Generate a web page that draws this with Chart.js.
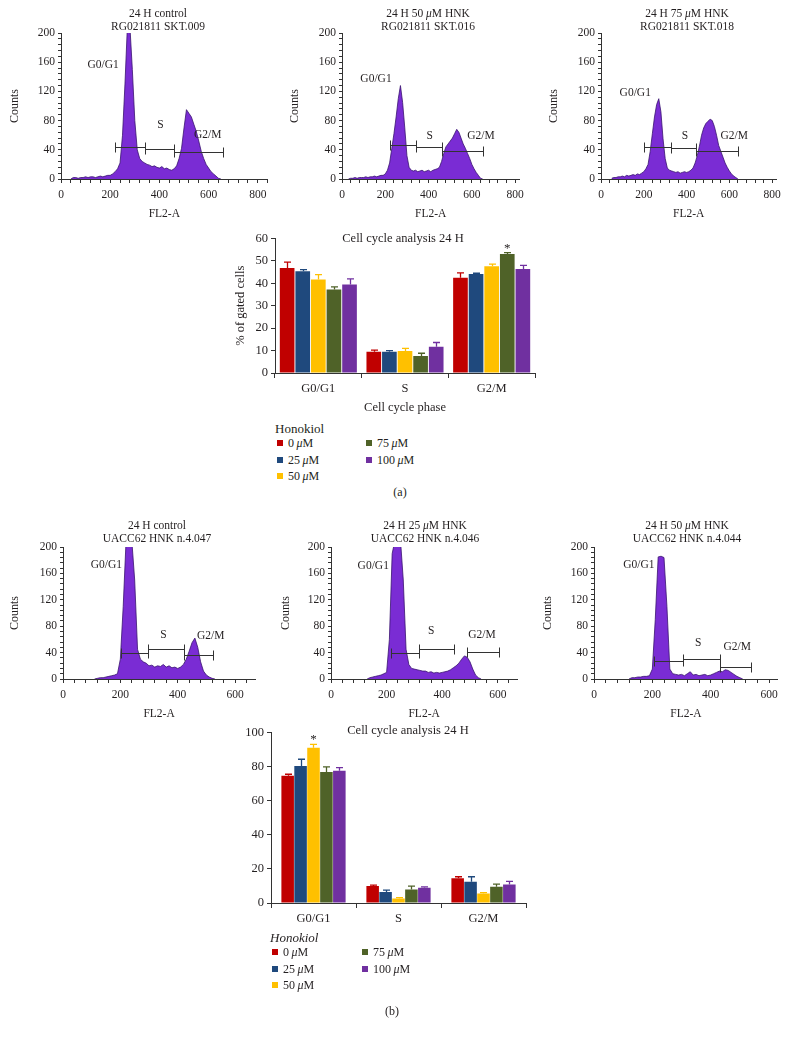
<!DOCTYPE html>
<html><head><meta charset="utf-8">
<script src="https://cdn.jsdelivr.net/npm/chart.js@4/dist/chart.umd.min.js"></script>
<style>
body{margin:0;background:#fff;width:787px;height:1037px;position:relative;overflow:hidden;font-family:"Liberation Serif","DejaVu Serif",serif;color:#231f20}
canvas{position:absolute}
.t{position:absolute;white-space:nowrap;transform:translate(-50%,-50%);font-size:11.5px;line-height:13px;text-align:center}
.l{position:absolute;white-space:nowrap;transform:translateY(-50%);font-size:11.5px;line-height:13px}
.sq{position:absolute;width:6px;height:6px;transform:translateY(-50%)}
</style></head><body>
<script>
// ---------------- DATA ----------------
const BIN = 10; // FL2-A channel bin width
// Panel (a) RG021811 histograms (counts every 10 channels from start)
const h1Start = 40;
const h1Counts = [0,2,2,1,2,2,3,2,3,3,2,3,4,3,4,5,5,7,10,14,22,60,130,210,210,150,80,40,28,24,22,20,19,17,18,16,15,17,14,15,13,12,14,18,28,42,70,95,90,85,75,65,52,38,28,20,15,10,7,4,1,0];
const h2Start = 30;
const h2Counts = [0,1,1,2,1,2,2,2,3,2,3,3,4,3,4,5,5,7,12,22,42,62,85,110,128,105,70,32,16,12,11,12,10,11,12,10,11,12,10,12,13,14,16,24,35,44,48,52,56,62,68,64,56,48,42,35,28,20,14,9,5,1,0];
const h3Start = 50;
const h3Counts = [1,2,2,3,3,4,3,5,4,5,6,5,7,6,8,10,14,20,38,62,85,102,110,92,55,28,15,12,11,10,9,10,8,9,10,9,10,12,15,22,32,45,60,70,76,79,82,80,72,60,46,38,30,22,16,11,7,4,2,0];
// Panel (b) UACC62 histograms
const h4Start = 110;
const h4Counts = [0,1,2,2,3,4,5,6,8,30,110,210,210,210,150,45,30,26,24,20,21,18,20,19,22,18,20,17,18,16,18,22,30,42,55,62,48,26,12,6,3,1,0];
const h5Start = 130;
const h5Counts = [0,2,3,4,5,6,8,10,60,190,210,210,210,150,45,22,16,15,14,13,12,12,10,11,9,10,9,10,11,12,14,17,20,24,30,35,33,26,15,6,2,0];
const h6Start = 120;
const h6Counts = [0,2,2,3,3,4,4,5,15,90,185,186,184,110,15,8,7,6,7,5,8,11,6,7,5,6,7,5,6,8,10,12,11,14,13,10,7,4,2,0];

// gate ranges [from, to] in FL2-A channels: G0/G1, S, G2/M
const h1Gates = [[218,340],[340,461],[461,659]];
const h2Gates = [[222,344],[344,462],[462,653]];
const h3Gates = [[203,326],[326,443],[443,640]];
const h4Gates = [[202,298],[298,422],[422,524]];
const h5Gates = [[216,315],[315,441],[489,603]];
const h6Gates = [[205,305],[305,431],[431,537]];
const gateNames = ['G0/G1','S','G2/M'];

// bar charts
const phases = ['G0/G1','S','G2/M'];
const doses = ['0','25','50','75','100'];
// (a) % of gated cells, means and upper error bounds per dose
const a0 = [46.8, 9.5, 42.5],   a0Err = [49.5, 10.2, 44.7];
const a25 = [45.4, 9.5, 44.2],  a25Err = [46.1, 10.0, 44.5];
const a50 = [41.7, 9.8, 47.6],  a50Err = [43.9, 11.0, 48.6];
const a75 = [37.3, 7.6, 53.1],  a75Err = [38.4, 8.8, 53.7];
const a100 = [39.5, 11.7, 46.4],a100Err = [42.0, 13.6, 48.0];
// (b)
const b0 = [74.6, 9.9, 14.5],   b0Err = [75.5, 10.5, 15.4];
const b25 = [80.4, 6.5, 12.5],  b25Err = [84.3, 7.5, 15.4];
const b50 = [91.1, 2.6, 5.5],   b50Err = [93.0, 3.2, 6.1];
const b75 = [76.9, 7.9, 9.5],   b75Err = [79.8, 9.9, 11.1];
const b100 = [77.5, 8.9, 10.9], b100Err = [79.4, 9.5, 12.7];
const aStars = [[2,3]]; // [phase index, dose index]
const bStars = [[0,2]];

// ---------------- STYLE ----------------
const FONT = '"Liberation Serif","DejaVu Serif",serif';
const INK = '#231f20';
const PURPLE = '#7a2cd4', PURPLE_EDGE = '#3a1470';
const DOSE_COLORS = ['#c00000','#1f497d','#ffc000','#4f6228','#7030a0'];

// ---------------- PLUGINS ----------------
const gatePlugin = {
  id:'gates',
  afterDatasetsDraw(chart, args, o){
    if(!o || !o.gates) return;
    const {ctx} = chart, x = chart.scales.x, y = chart.scales.y;
    ctx.save();
    ctx.strokeStyle = '#333'; ctx.lineWidth = 1;
    o.gates.forEach((g,i)=>{
      const x1 = Math.round(x.getPixelForValue(g[0]))+0.5, x2 = Math.round(x.getPixelForValue(g[1]))+0.5;
      const yy = Math.round(y.getPixelForValue(o.heights[i]))+0.5;
      ctx.beginPath();
      ctx.moveTo(x1,yy); ctx.lineTo(x2,yy);
      ctx.moveTo(x1,yy-5); ctx.lineTo(x1,yy+5);
      ctx.moveTo(x2,yy-5); ctx.lineTo(x2,yy+5);
      ctx.stroke();
    });
    ctx.fillStyle = INK; ctx.font = '11.5px '+FONT; ctx.textAlign='center'; ctx.textBaseline='middle';
    o.names.forEach((n,i)=>{
      const p = o.labelPos[i];
      ctx.fillText(n, x.getPixelForValue(p[0]), y.getPixelForValue(p[1]));
    });
    ctx.restore();
  }
};
const errPlugin = {
  id:'errbars',
  afterDatasetsDraw(chart, args, o){
    if(!o || !o.err) return;
    const {ctx} = chart, y = chart.scales.y;
    ctx.save();
    chart.data.datasets.forEach((ds,di)=>{
      const meta = chart.getDatasetMeta(di);
      meta.data.forEach((bar,i)=>{
        const top = y.getPixelForValue(o.err[di][i]);
        const bx = Math.round(bar.x)+0.5;
        ctx.strokeStyle = ds.backgroundColor; ctx.lineWidth = 1.3;
        ctx.beginPath();
        ctx.moveTo(bx, bar.y); ctx.lineTo(bx, top);
        ctx.moveTo(bx-3.5, top); ctx.lineTo(bx+3.5, top);
        ctx.stroke();
      });
    });
    ctx.fillStyle = INK; ctx.font = '13px '+FONT; ctx.textAlign='center'; ctx.textBaseline='alphabetic';
    (o.stars||[]).forEach(s=>{
      const bar = chart.getDatasetMeta(s[1]).data[s[0]];
      ctx.fillText('*', bar.x, y.getPixelForValue(o.err[s[1]][s[0]]) - 1);
    });
    ctx.restore();
  }
};
Chart.register(gatePlugin, errPlugin);

// ---------------- HELPERS ----------------
function addText(html, x, y, cls, extra){
  const d = document.createElement('div');
  d.className = cls; d.innerHTML = html;
  d.style.left = x+'px'; d.style.top = y+'px';
  if(extra) Object.assign(d.style, extra);
  document.body.appendChild(d);
}
function addCanvas(left, top, w, h){
  const c = document.createElement('canvas');
  c.width = w; c.height = h;
  c.style.left = left+'px'; c.style.top = top+'px';
  c.style.width = w+'px'; c.style.height = h+'px';
  document.body.appendChild(c);
  return c;
}
function range(a,b,s){ const r=[]; for(let v=a; v<=b+1e-9; v+=s) r.push(v); return r; }

function makeHist(L, start, counts, gates){
  const left = L.axisX - 61;
  const rightRel = L.axisX + L.xMax*L.ppu - left;
  const W = Math.ceil(rightRel + 8), H = 225;
  const cv = addCanvas(left, L.canvasTop, W, H);
  const pts = counts.map((c,i)=>({x:start + i*BIN, y:c}));
  const xMinor = range(0, L.xMax, 40), yMinor = range(0,200,8);
  new Chart(cv, {
    type:'line',
    data:{datasets:[{data:pts, fill:'origin', backgroundColor:PURPLE, borderColor:PURPLE_EDGE, borderWidth:0.8, pointRadius:0, tension:0}]},
    options:{
      responsive:false, animation:false, devicePixelRatio:1,
      layout:{padding:{left:L.padL, top:L.plotTop-L.canvasTop, right:W-rightRel, bottom:0}},
      plugins:{legend:{display:false}, tooltip:{enabled:false},
        gates:{gates:gates, heights:L.gateY, names:gateNames, labelPos:L.labelPos}},
      scales:{
        x:{type:'linear', min:0, max:L.xMax,
          afterBuildTicks:s=>{ s.ticks = xMinor.map(v=>({value:v})); },
          afterFit:s=>{ s.height = H-(L.plotBottom-L.canvasTop); },
          ticks:{autoSkip:false, maxRotation:0, padding:5, color:INK, font:{family:FONT,size:11.5},
            callback:v=> (v%200===0 ? String(v) : '')},
          grid:{drawOnChartArea:false, tickLength:4, color:'#333'},
          border:{color:'#333', width:1},
          title:{display:true, text:'FL2-A', color:INK, font:{family:FONT,size:11.5}, padding:{top:2,bottom:4}}},
        y:{min:0, max:200,
          afterBuildTicks:s=>{ s.ticks = yMinor.map(v=>({value:v})); },
          afterFit:s=>{ s.width = 61 - L.padL; },
          ticks:{autoSkip:false, padding:3, color:INK, font:{family:FONT,size:11.5},
            callback:v=> (v%40===0 ? String(v) : '')},
          grid:{drawOnChartArea:false, tickLength:3, color:'#333'},
          border:{color:'#333', width:1},
          title:{display:true, text:'Counts', color:INK, font:{family:FONT,size:12}, padding:{top:0,bottom:0}}}
      }
    }
  });
}

function makeBars(L, series, errs, stars){
  const cv = addCanvas(L.left, L.top, L.w, L.h);
  new Chart(cv, {
    type:'bar',
    data:{labels:phases, datasets:series.map((s,i)=>({label:doses[i]+' \u03bcM', data:s, backgroundColor:DOSE_COLORS[i], borderWidth:0,
      categoryPercentage:L.catPct, barPercentage:L.barPct}))},
    options:{
      responsive:false, animation:false, devicePixelRatio:1,
      layout:{padding:{left:L.padL, top:L.plotTop-L.top, right:L.left+L.w-L.plotRight, bottom:0}},
      plugins:{legend:{display:false}, tooltip:{enabled:false}, errbars:{err:errs, stars:stars}},
      scales:{
        x:{afterFit:s=>{ s.height = L.top+L.h-L.plotBottom; },
          ticks:{color:INK, font:{family:FONT,size:12.5}, padding:3},
          grid:{offset:true, drawOnChartArea:false, tickLength:5, color:'#333'},
          border:{color:'#333', width:1},
          title:{display:!!L.xTitle, text:L.xTitle||'', color:INK, font:{family:FONT,size:12.5}, padding:{top:2,bottom:3}}},
        y:{min:0, max:L.yMax, afterFit:s=>{ s.width = L.plotLeft - L.left - L.padL; },
          ticks:{stepSize:L.yStep, color:INK, font:{family:FONT,size:12.5}, padding:3},
          grid:{drawOnChartArea:false, tickLength:4, color:'#333'},
          border:{color:'#333', width:1},
          title:{display:!!L.yTitle, text:L.yTitle||'', color:INK, font:{family:FONT,size:12.5}, padding:{top:0,bottom:0}}}
      }
    }
  });
}

// ---------------- LAYOUT & DRAW ----------------
const mu = '<i>\u03bc</i>';
makeHist({axisX:61, padL:8, ppu:0.246, xMax:840, canvasTop:0, plotTop:33, plotBottom:179, gateY:[44,41,37], labelPos:[[171,156],[404,74],[596,60]]}, h1Start, h1Counts, h1Gates);
makeHist({axisX:342, padL:7, ppu:0.2175, xMax:820, canvasTop:0, plotTop:33, plotBottom:179, gateY:[46,44,39], labelPos:[[157,137],[405,59],[642,59]]}, h2Start, h2Counts, h2Gates);
makeHist({axisX:601, padL:7, ppu:0.215, xMax:820, canvasTop:0, plotTop:33, plotBottom:179, gateY:[44,43,38], labelPos:[[160,118],[392,59],[623,59]]}, h3Start, h3Counts, h3Gates);
makeHist({axisX:63, padL:6, ppu:0.2867, xMax:670, canvasTop:500, plotTop:547, plotBottom:679, gateY:[40,45,37], labelPos:[[151,172],[350,67],[515,65]]}, h4Start, h4Counts, h4Gates);
makeHist({axisX:331, padL:9, ppu:0.278, xMax:670, canvasTop:500, plotTop:547, plotBottom:679, gateY:[39,45,41], labelPos:[[152,171],[360,73],[543,66]]}, h5Start, h5Counts, h5Gates);
makeHist({axisX:594, padL:8, ppu:0.2917, xMax:630, canvasTop:500, plotTop:547, plotBottom:679, gateY:[28,31,18], labelPos:[[154,172],[357,55],[491,49]]}, h6Start, h6Counts, h6Gates);

addText('24 H control<br>RG021811 SKT.009', 158, 20, 't');
addText('24 H 50 '+mu+'M HNK<br>RG021811 SKT.016', 428, 20, 't');
addText('24 H 75 '+mu+'M HNK<br>RG021811 SKT.018', 687, 20, 't');
addText('24 H control<br>UACC62 HNK n.4.047', 157, 532, 't');
addText('24 H 25 '+mu+'M HNK<br>UACC62 HNK n.4.046', 425, 532, 't');
addText('24 H 50 '+mu+'M HNK<br>UACC62 HNK n.4.044', 687, 532, 't');

makeBars({left:225, top:228, w:320, h:190, padL:8, plotLeft:275, plotRight:535, plotTop:237, plotBottom:373, yMax:60, yStep:10,
  catPct:0.9, barPct:0.94, xTitle:'Cell cycle phase', yTitle:'% of gated cells'},
  [a0,a25,a50,a75,a100], [a0Err,a25Err,a50Err,a75Err,a100Err], aStars);
makeBars({left:221, top:722, w:315, h:203, padL:4, plotLeft:271, plotRight:526, plotTop:732, plotBottom:903, yMax:100, yStep:20,
  catPct:0.76, barPct:0.97},
  [b0,b25,b50,b75,b100], [b0Err,b25Err,b50Err,b75Err,b100Err], bStars);

addText('Cell cycle analysis 24 H', 403, 238, 't', {fontSize:'12.5px'});
addText('Cell cycle analysis 24 H', 408, 730, 't', {fontSize:'12.5px'});

function legend(x0, y0, italicTitle, col2x){
  addText(italicTitle ? '<i>Honokiol</i>' : 'Honokiol', x0, y0, 'l', {fontSize:'13px'});
  doses.forEach((d,i)=>{
    const col = i<3 ? 0 : 1, row = i<3 ? i : i-3;
    const sx = col ? col2x : x0+2, yy = y0+15+row*16.5;
    const sq = document.createElement('div'); sq.className='sq';
    sq.style.left = sx+'px'; sq.style.top = yy+'px'; sq.style.background = DOSE_COLORS[i];
    document.body.appendChild(sq);
    addText(d+'&#8201;'+mu+'M', sx+11, yy, 'l', {fontSize:'12px'});
  });
}
legend(275, 428, false, 366);
legend(270, 937, true, 362);
addText('(a)', 400, 492, 't', {fontSize:'12px'});
addText('(b)', 392, 1011, 't', {fontSize:'12px'});
</script>
</body></html>
